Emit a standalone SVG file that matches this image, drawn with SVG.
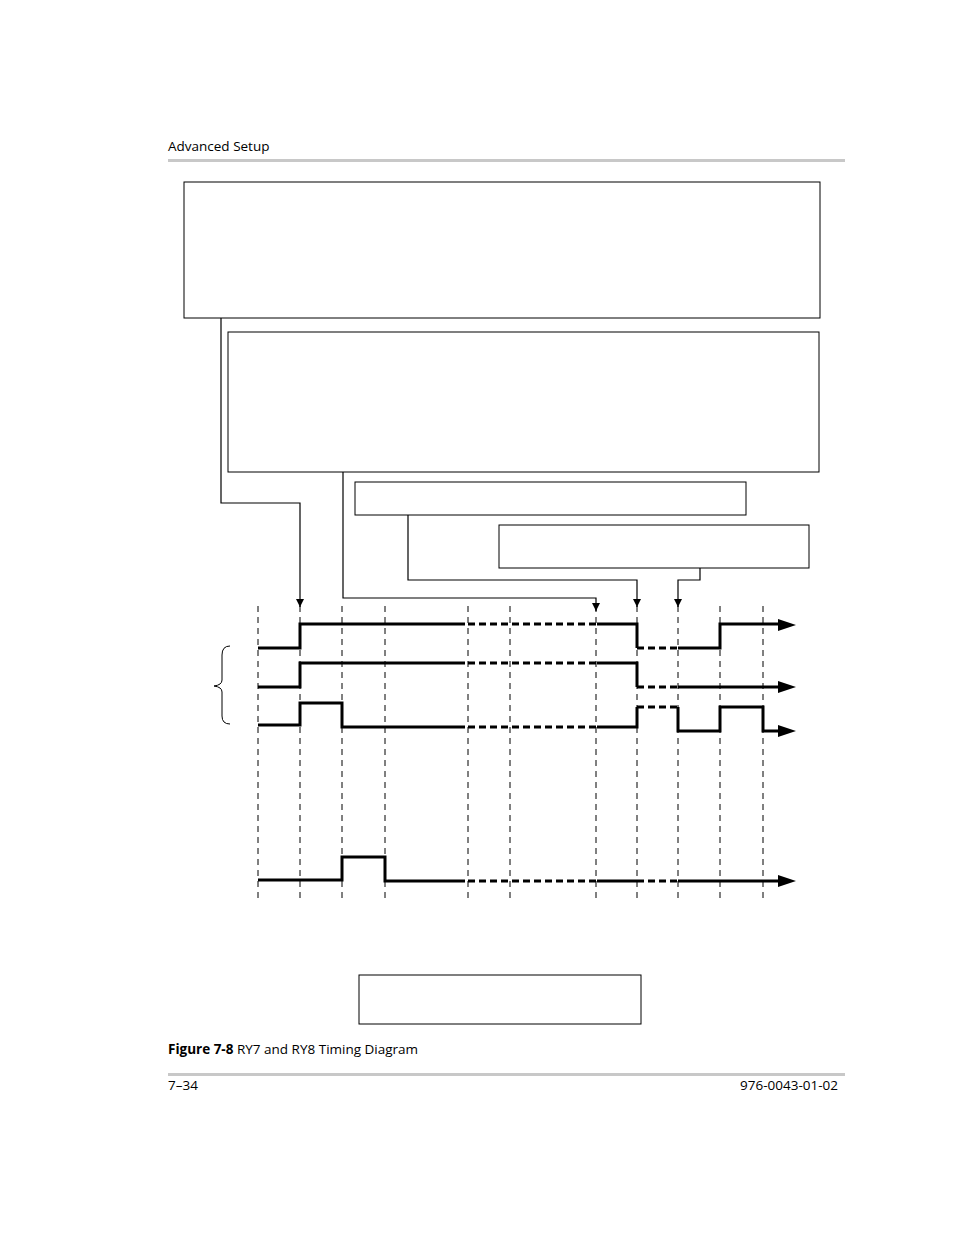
<svg xmlns="http://www.w3.org/2000/svg" width="954" height="1235" viewBox="0 0 954 1235">
<style>
.t{font-family:"Open Sans","Liberation Sans",sans-serif;font-size:13.5px;fill:#000}
.box{fill:#fff;stroke:#000;stroke-width:1}
.c{fill:none;stroke:#000;stroke-width:1.2}
.g{fill:none;stroke:#000;stroke-width:1;stroke-dasharray:6,5}
.s{fill:none;stroke:#000;stroke-width:3}
.d{fill:none;stroke:#000;stroke-width:3;stroke-dasharray:7,4}
</style>
<defs>
<marker id="a" viewBox="0 0 10 10" refX="10" refY="5" markerWidth="10" markerHeight="8" orient="auto" markerUnits="userSpaceOnUse"><path d="M0,0L10,5L0,10z" fill="#000"/></marker>
</defs>
<rect x="168" y="159" width="677" height="3" fill="#c8c8c8"/>
<rect x="168" y="1073" width="677" height="3" fill="#c8c8c8"/>
<text class="t" x="168" y="151">Advanced Setup</text>
<text class="t" x="168" y="1054"><tspan font-weight="bold">Figure 7-8</tspan>  RY7 and RY8 Timing Diagram</text>
<text class="t" x="168" y="1090">7–34</text>
<text class="t" x="838" y="1090" text-anchor="end">976-0043-01-02</text>
<g id="box1"><rect class="box" x="184" y="182" width="636" height="136"/></g>
<g id="box2"><rect class="box" x="228" y="332" width="591" height="140"/></g>
<g id="box3"><rect class="box" x="355" y="482" width="391" height="33"/></g>
<g id="box4"><rect class="box" x="499" y="525" width="310" height="43"/></g>
<g id="box5"><rect class="box" x="359" y="975" width="282" height="49"/></g>
<g id="connectors">
<path class="c" d="M221,318V503H300V607" marker-end="url(#a)"/>
<path class="c" d="M343,472V598H596V611" marker-end="url(#a)"/>
<path class="c" d="M408,515V580H637V607" marker-end="url(#a)"/>
<path class="c" d="M700,568V580H678V607" marker-end="url(#a)"/>
</g>
<g id="grid">
<path class="g" d="M258,606V900M300,606V900M342,606V900M385,606V900M468,606V900M510,606V900M596,606V900M637,606V900M678,606V900M720,606V900M763,606V900"/>
</g>
<path d="M230,646Q222,646 222,655V680Q222,685 214,686Q222,687 222,692V716Q222,724 230,724" fill="none" stroke="#000" stroke-width="1"/>
<g id="signals">
<path class="s" d="M258,648H300V624H465"/><path class="d" d="M468,624H596"/><path class="s" d="M597,624H637V648"/><path class="d" d="M637,648H678"/><path class="s" d="M678,648H720V624H780"/><path d="M778,619L796,625L778,631z"/>
<path class="s" d="M258,687H300V663H465"/><path class="d" d="M468,663H596"/><path class="s" d="M597,663H637V687"/><path class="d" d="M637,687H678"/><path class="s" d="M678,687H780"/><path d="M778,681L796,687L778,693z"/>
<path class="s" d="M258,725H300V703H342V727H465"/><path class="d" d="M468,727H596"/><path class="s" d="M597,727H637V707"/><path class="d" d="M637,707H678"/><path class="s" d="M678,707V731H720V707H763V731H780"/><path d="M778,725L796,731L778,737z"/>
<path class="s" d="M258,880H342V857H385V881H465"/><path class="d" d="M468,881H596"/><path class="s" d="M597,881H637"/><path class="d" d="M637,881H678"/><path class="s" d="M678,881H780"/><path d="M778,875L796,881L778,887z"/>
</g>
</svg>
